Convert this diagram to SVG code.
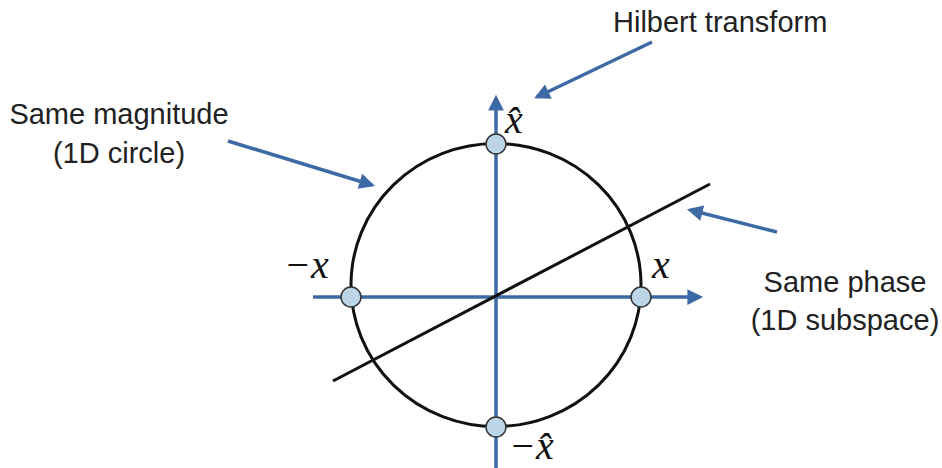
<svg xmlns="http://www.w3.org/2000/svg" width="942" height="468" viewBox="0 0 942 468">
<style>
.lbl{font-family:"Liberation Sans",Arial,sans-serif;font-size:29px;fill:#222}
.m{font-family:"Liberation Serif","DejaVu Serif",serif;font-style:italic;font-size:40px;fill:#111}
.ax{stroke:#3d6aa5;stroke-width:3.5;fill:none}
.pt{fill:#bcd6e8;stroke:#333;stroke-width:1.5}
</style>
<defs>
<marker id="ah" viewBox="0 0 10 10" refX="8" refY="5" markerWidth="5" markerHeight="4.5" orient="auto" markerUnits="strokeWidth">
<path d="M0,0 L10,5 L0,10 z" fill="#3d6aa5"/>
</marker>
</defs>
<g id="connectors">
<line class="ax" x1="313" y1="297" x2="700" y2="297" marker-end="url(#ah)"/>
<line class="ax" x1="496" y1="468" x2="496" y2="98" marker-end="url(#ah)"/>
<line x1="333" y1="381" x2="710" y2="184" stroke="#111" stroke-width="3"/>
<line class="ax" x1="652" y1="42" x2="537" y2="97" marker-end="url(#ah)"/>
<line class="ax" x1="228" y1="141" x2="372" y2="185" marker-end="url(#ah)"/>
<line class="ax" x1="777" y1="232" x2="690" y2="210" marker-end="url(#ah)"/>
</g>
<g id="circle"><ellipse cx="496" cy="285" rx="145" ry="141.5" fill="none" stroke="#111" stroke-width="3"/></g>
<g id="p-xhat"><circle class="pt" cx="496" cy="144" r="10"/><text class="m" x="505" y="133">x̂</text></g>
<g id="p-negx"><circle class="pt" cx="351" cy="297" r="10"/><text class="m" x="284" y="278">−x</text></g>
<g id="p-x"><circle class="pt" cx="641" cy="297" r="10"/><text class="m" x="652" y="278">x</text></g>
<g id="p-negxhat"><circle class="pt" cx="496" cy="427" r="10"/><text class="m" x="509" y="459">−x̂</text></g>
<g id="hilbert"><text class="lbl" x="613" y="32">Hilbert transform</text></g>
<g id="magnitude"><text class="lbl" x="119" y="124" text-anchor="middle">Same magnitude</text><text class="lbl" x="119" y="163" text-anchor="middle">(1D circle)</text></g>
<g id="phase"><text class="lbl" x="845" y="292" text-anchor="middle">Same phase</text><text class="lbl" x="845" y="330" text-anchor="middle">(1D subspace)</text></g>
</svg>
